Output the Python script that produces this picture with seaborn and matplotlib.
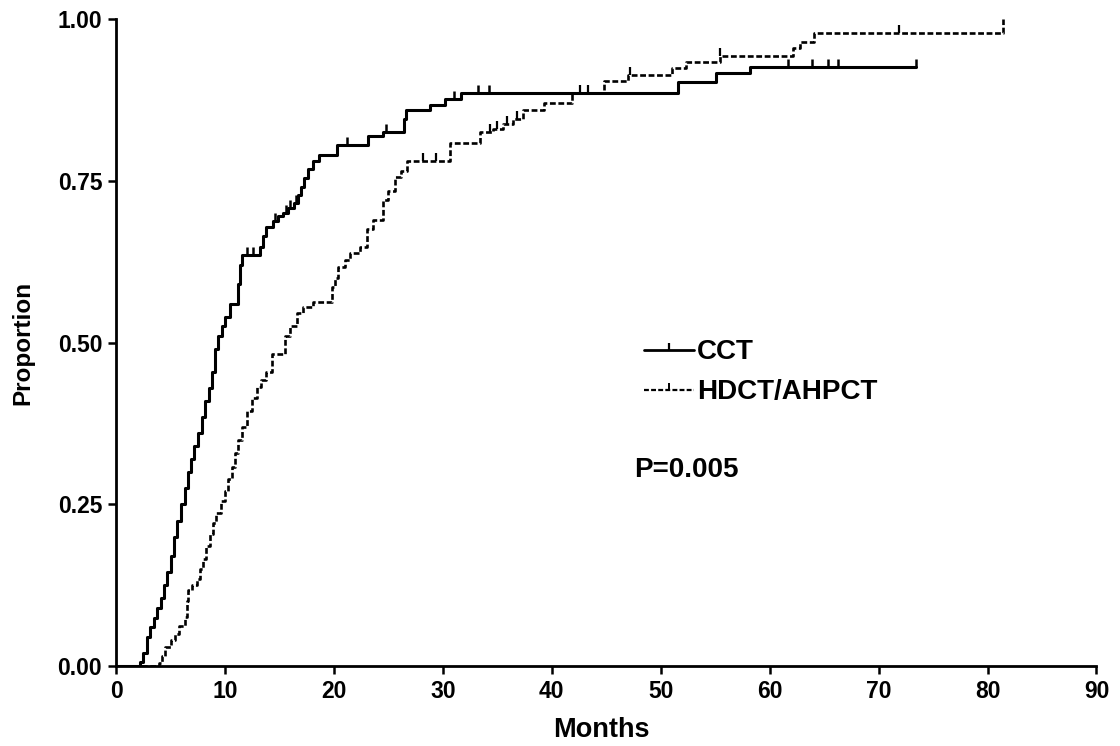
import numpy as np
import pandas as pd
import matplotlib
matplotlib.use("Agg")
import matplotlib.pyplot as plt
from matplotlib.lines import Line2D
import seaborn as sns

# Cumulative proportion with event, step times (months) per treatment arm
cct_months = [0.0, 2.2, 2.5, 2.8, 3.1, 3.5, 3.8, 4.1, 4.4, 4.7, 5.0, 5.3, 5.6, 6.0, 6.3,
              6.6, 6.9, 7.2, 7.55, 7.9, 8.2, 8.5, 8.8, 9.1, 9.4, 9.7, 10.0, 10.5, 11.2,
              11.4, 11.6, 13.2, 13.5, 13.8, 14.4, 14.9, 15.3, 15.8, 16.3, 16.7, 17.0,
              17.3, 17.6, 18.1, 18.6, 20.3, 23.1, 24.5, 26.4, 26.6, 28.8, 30.2, 31.7,
              51.6, 55.1, 58.2, 73.4]
cct_prop = [0.0, 0.006, 0.02, 0.045, 0.06, 0.075, 0.09, 0.105, 0.125, 0.145, 0.17, 0.20,
            0.225, 0.25, 0.275, 0.30, 0.32, 0.34, 0.36, 0.385, 0.41, 0.43, 0.455, 0.49,
            0.51, 0.525, 0.54, 0.56, 0.59, 0.62, 0.635, 0.648, 0.665, 0.678, 0.688,
            0.695, 0.70, 0.708, 0.715, 0.728, 0.74, 0.755, 0.768, 0.78, 0.79, 0.805,
            0.82, 0.826, 0.845, 0.86, 0.867, 0.876, 0.885, 0.902, 0.917, 0.926, 0.926]
cct_censored = [12.0, 12.6, 14.6, 15.6, 16.0, 16.5, 21.2, 24.8, 31.0, 33.2, 34.2,
                61.7, 63.9, 65.4, 66.3, 73.4]

hd_months = [0.0, 3.9, 4.2, 4.5, 5.0, 5.4, 5.8, 6.3, 6.5, 6.6, 7.0, 7.4, 7.7, 8.0, 8.3,
             8.6, 8.9, 9.2, 9.6, 10.0, 10.3, 10.6, 10.9, 11.2, 11.6, 12.0, 12.5, 12.9,
             13.3, 13.8, 14.3, 15.5, 16.0, 16.6, 17.2, 18.1, 19.8, 20.1, 20.4, 21.0,
             21.5, 22.4, 23.0, 23.6, 24.5, 25.0, 25.6, 26.2, 26.7, 30.7, 33.4, 34.6,
             35.5, 36.4, 37.4, 39.3, 41.9, 44.8, 47.0, 51.0, 52.3, 55.4, 62.1, 62.8,
             64.1, 81.4]
hd_prop = [0.0, 0.005, 0.015, 0.03, 0.04, 0.05, 0.062, 0.076, 0.10, 0.117, 0.125, 0.135,
           0.15, 0.165, 0.185, 0.205, 0.222, 0.236, 0.255, 0.27, 0.29, 0.308, 0.33,
           0.35, 0.37, 0.395, 0.415, 0.432, 0.442, 0.455, 0.483, 0.51, 0.525, 0.545,
           0.555, 0.563, 0.586, 0.60, 0.617, 0.628, 0.638, 0.648, 0.675, 0.69, 0.72,
           0.735, 0.756, 0.765, 0.78, 0.808, 0.825, 0.83, 0.838, 0.845, 0.859, 0.870,
           0.885, 0.905, 0.913, 0.925, 0.933, 0.943, 0.955, 0.965, 0.978, 1.0]
hd_censored = [28.2, 29.4, 34.3, 35.0, 35.9, 36.8, 42.6, 43.3, 47.2, 55.4, 71.9]

x_ticks = [0, 10, 20, 30, 40, 50, 60, 70, 80, 90]
y_ticks = [0.00, 0.25, 0.50, 0.75, 1.00]

sns.set_theme(style="ticks")
plt.rcParams["font.family"] = ["Liberation Sans", "DejaVu Sans"]
plt.rcParams["text.color"] = "black"
plt.rcParams["axes.labelcolor"] = "black"

fig = plt.figure(figsize=(11.2, 7.46), dpi=100)
ax = fig.add_axes([0.1036, 0.107, 0.8754, 0.8675])

cct_df = pd.DataFrame({"Months": cct_months, "Proportion": cct_prop})
hd_df = pd.DataFrame({"Months": hd_months, "Proportion": hd_prop})

sns.lineplot(data=cct_df, x="Months", y="Proportion", ax=ax, color="black",
             linewidth=2.2, drawstyle="steps-post", estimator=None, sort=False)
sns.lineplot(data=hd_df, x="Months", y="Proportion", ax=ax, color="black",
             linewidth=1.9, drawstyle="steps-post", estimator=None, sort=False,
             dashes=False, linestyle=(0, (2.2, 1.0)))


def step_value(times, values, t):
    idx = np.searchsorted(times, t, side="right") - 1
    return np.asarray(values)[idx]


ax.plot(cct_censored, step_value(cct_months, cct_prop, cct_censored), ls="none",
        marker=2, markersize=6, markeredgewidth=1.8, color="black")
ax.plot(hd_censored, step_value(hd_months, hd_prop, hd_censored), ls="none",
        marker=2, markersize=6, markeredgewidth=1.6, color="black")

ax.set_xlim(0, 90)
ax.set_ylim(0, 1.0)
ax.set_xticks(x_ticks)
ax.set_yticks(y_ticks)
ax.set_xticklabels([str(v) for v in x_ticks])
ax.set_yticklabels([f"{v:.2f}" for v in y_ticks])
ax.margins(0)

for side in ("top", "right"):
    ax.spines[side].set_visible(False)
for side in ("left", "bottom"):
    ax.spines[side].set_linewidth(2.0)
    ax.spines[side].set_color("black")
ax.tick_params(axis="both", direction="out", length=6, width=1.8, color="black",
               labelsize=16.5, pad=4, labelcolor="black")
for lab in ax.get_xticklabels() + ax.get_yticklabels():
    lab.set_fontweight("bold")

ax.set_xlabel("")
ax.set_ylabel("Proportion", fontsize=17.5, fontweight="bold", labelpad=17, color="black")
fig.text(0.537, 0.012, "Months", fontsize=19.5, fontweight="bold", ha="center",
         va="baseline", color="black")

handles = [
    Line2D([], [], color="black", linewidth=2.0, marker=2, markersize=5,
           markeredgewidth=1.6),
    Line2D([], [], color="black", linewidth=1.6, linestyle=(0, (2.2, 1.0)), marker=2,
           markersize=5, markeredgewidth=1.4),
]
fig.legend(handles, ["CCT", "HDCT/AHPCT"], loc="upper left",
           bbox_to_anchor=(0.575, 0.545), frameon=False,
           prop={"size": 20, "weight": "bold"},
           handlelength=1.8, handletextpad=0.12, labelspacing=0.5, borderpad=0,
           borderaxespad=0, numpoints=1)

ax.text(0.566, 0.370, "P=0.005", transform=fig.transFigure, fontsize=20,
        fontweight="bold", ha="left", va="center", color="black")

fig.savefig("out.png", dpi=100, facecolor="white")
